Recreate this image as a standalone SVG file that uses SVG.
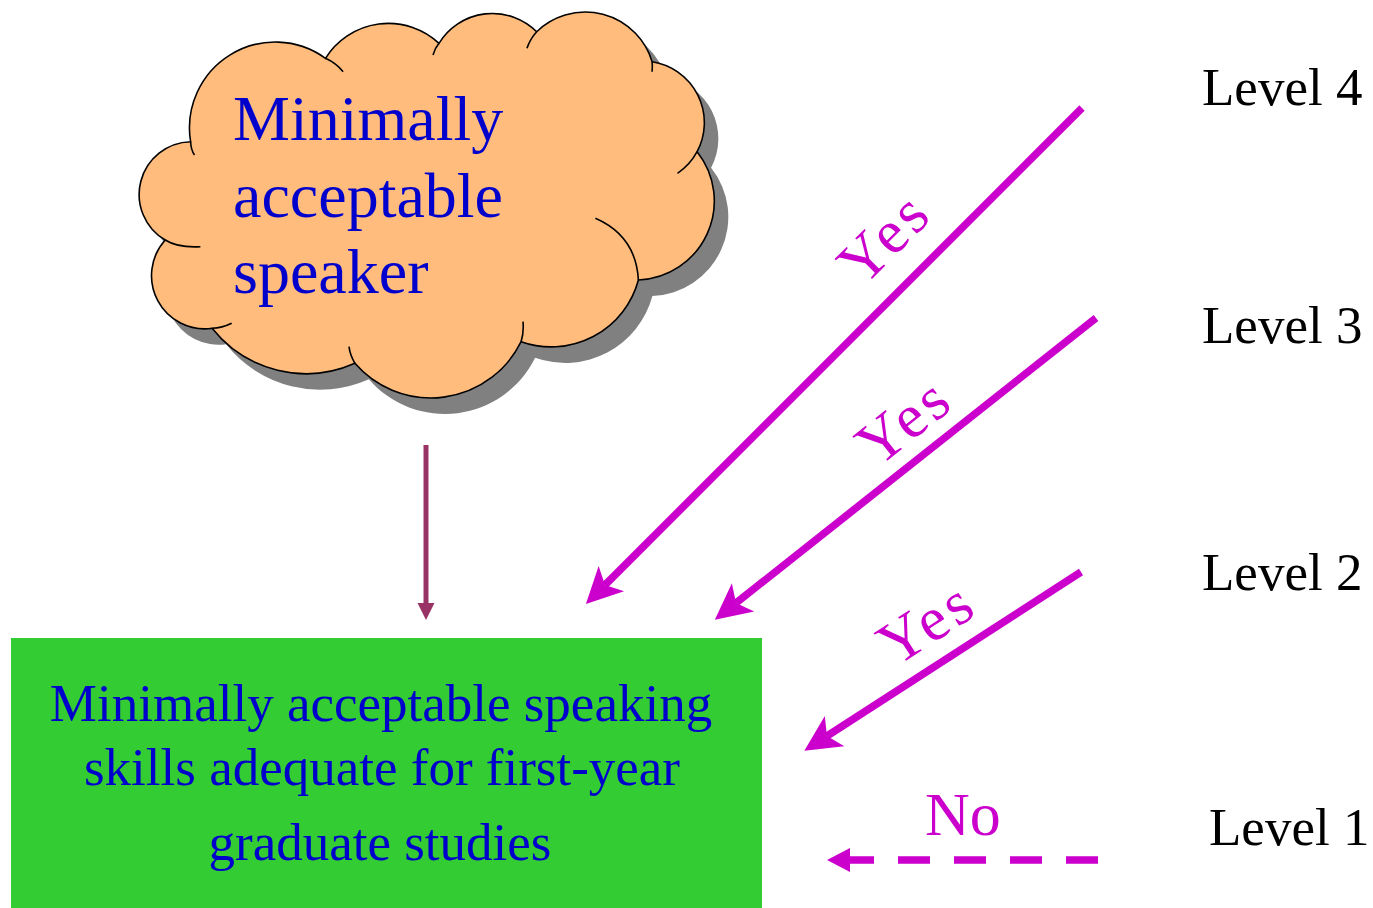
<svg xmlns="http://www.w3.org/2000/svg" width="1373" height="908" viewBox="0 0 1373 908">
<style>
.serif{font-family:"Liberation Serif","Times New Roman",serif;}
.blue{fill:#0000CC;}
.lvl{font-size:53px;fill:#000;}
.mag{fill:#CC00CC;font-size:62px;}
.yes{letter-spacing:4px;}
.big{stroke:#CC00CC;stroke-width:7.5;fill:none;}
.cloud{fill:#FFBC7D;stroke:#000;stroke-width:1.6;}
.inner{fill:none;stroke:#000;stroke-width:1.6;}
</style>
<defs>
<marker id="headBig" markerUnits="userSpaceOnUse" orient="auto" refX="9" refY="0" markerWidth="40" markerHeight="40" overflow="visible">
<path d="M0,-18 L36,0 L0,18 L9,0 Z" fill="#CC00CC"/>
</marker>
<marker id="headSmall" markerUnits="userSpaceOnUse" orient="auto" refX="0" refY="0" markerWidth="24" markerHeight="24" overflow="visible">
<path d="M0,-12 L23,0 L0,12 Z" fill="#CC00CC"/>
</marker>
<marker id="headThin" markerUnits="userSpaceOnUse" orient="auto" refX="0" refY="0" markerWidth="18" markerHeight="18" overflow="visible">
<path d="M0,-8.5 L17,0 L0,8.5 Z" fill="#993366"/>
</marker>
<path id="cloudPath" d="M190.6,141.7 A52.8,52.8 0 0 0 165.2,240 A53.2,53.2 0 0 0 212.1,328.3 A120,120 0 0 0 354.9,363.3 A100.5,100.5 0 0 0 521.1,341.7 A90.2,90.2 0 0 0 638.4,280 A79.1,79.1 0 0 0 697.1,151.7 A61.7,61.7 0 0 0 652.1,61.7 A69.8,69.8 0 0 0 536.7,31.7 A62.8,62.8 0 0 0 439,43.3 A74.2,74.2 0 0 0 325.5,58.3 A85.8,85.8 0 0 0 190.6,141.7 Z"/>
</defs>

<g id="node-cloud">
<use href="#cloudPath" transform="translate(14,16)" fill="#808080"/>
<use href="#cloudPath" class="cloud"/>
<path class="inner" d="M190.6,141.7 Q191,150 194.5,155 M165.2,240 Q178,248 200.4,246.7 M212.1,328.3 Q222,328 231.7,323.3 M354.9,363.3 Q350,355 349,346.7 M521.1,341.7 Q524,332 523,321.7 M638.4,280 Q636,236 595.4,218.3 M697.1,151.7 Q690,165 677.5,173.3 M652.1,61.7 Q652.5,66 652.1,71.7 M536.7,31.7 Q530,39 527,48.3 M439,43.3 Q435,48 433,55 M325.5,58.3 Q336,63 343.1,71.7"/>
<text class="serif blue" font-size="64" x="233" y="140">Minimally</text>
<text class="serif blue" font-size="64" x="233" y="217">acceptable</text>
<text class="serif blue" font-size="64" x="233" y="293">speaker</text>
</g>

<g id="node-box">
<rect x="11" y="638" width="751" height="270" fill="#33CC33"/>
<text class="serif blue" font-size="53" text-anchor="middle" x="381" y="721">Minimally acceptable speaking</text>
<text class="serif blue" font-size="53" text-anchor="middle" x="382" y="785">skills adequate for first-year</text>
<text class="serif blue" font-size="53" text-anchor="middle" x="380" y="860">graduate studies</text>
</g>

<g id="node-level4"><text class="serif lvl" x="1202" y="105">Level 4</text></g>
<g id="node-level3"><text class="serif lvl" x="1202" y="343">Level 3</text></g>
<g id="node-level2"><text class="serif lvl" x="1202" y="590">Level 2</text></g>
<g id="node-level1"><text class="serif lvl" x="1209" y="845">Level 1</text></g>

<g id="connectors">
<path d="M426,445 L426,603" stroke="#993366" stroke-width="5" fill="none" marker-end="url(#headThin)"/>
<path class="big" d="M1082,108 L605,585" marker-end="url(#headBig)"/>
<path class="big" d="M1096,318 L736,603" marker-end="url(#headBig)"/>
<path class="big" d="M1081,572 L827,736" marker-end="url(#headBig)"/>
<path class="big" d="M1098,860 L850,860" stroke-dasharray="32 24" marker-end="url(#headSmall)"/>
<text class="serif mag yes" text-anchor="middle" x="899" y="252" transform="rotate(-45 899 252)">Yes</text>
<text class="serif mag yes" text-anchor="middle" x="917" y="437" transform="rotate(-38.4 917 437)">Yes</text>
<text class="serif mag yes" text-anchor="middle" x="938" y="640" transform="rotate(-32.9 938 640)">Yes</text>
<text class="serif mag" x="925" y="835">No</text>
</g>
</svg>
